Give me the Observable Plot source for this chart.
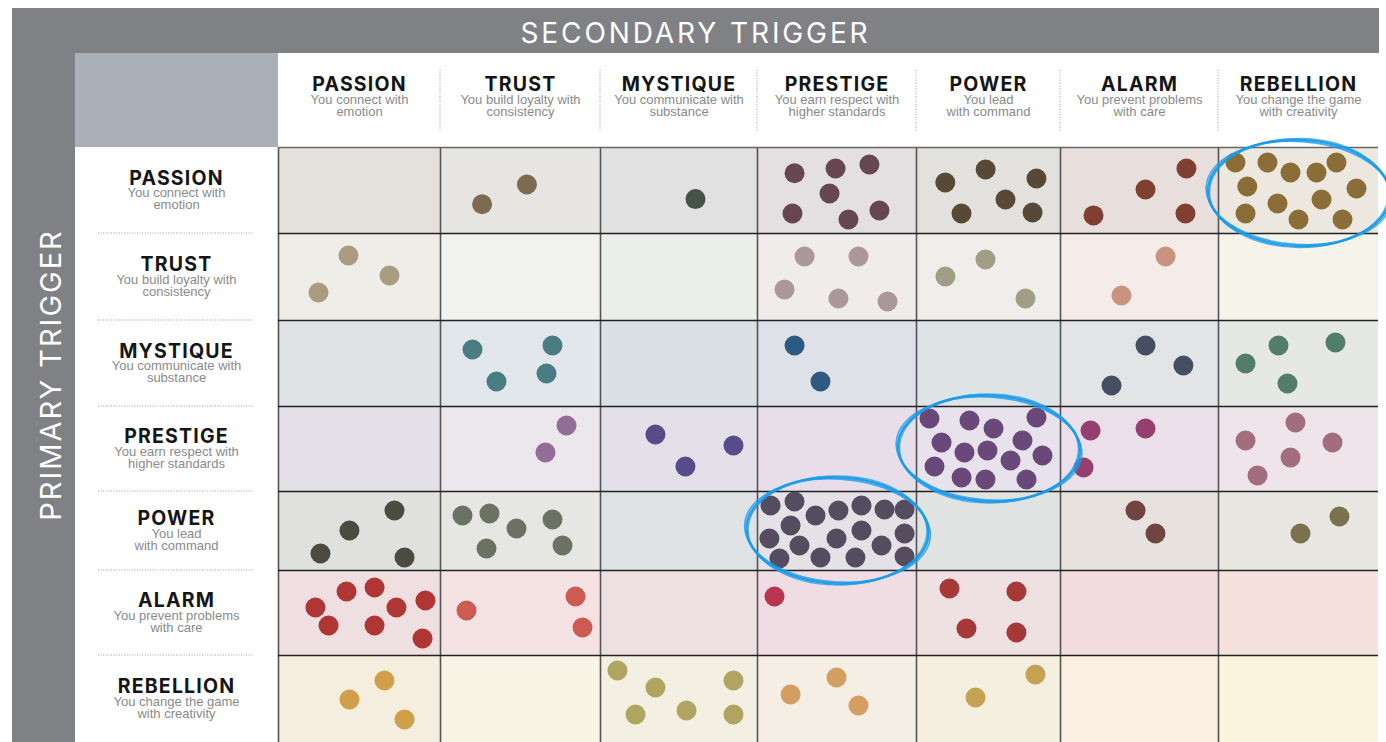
<!DOCTYPE html>
<html>
<head>
<meta charset="utf-8">
<script src="https://cdn.jsdelivr.net/npm/d3@7"></script>
<script src="https://cdn.jsdelivr.net/npm/@observablehq/plot@0.6"></script>
<style>
  body { margin: 0; background: #fff; }
  #wrap { position: relative; width: 1386px; height: 742px; overflow: hidden; background: #fff; font-family: Inter, "Noto Sans", sans-serif; }
  .band { position: absolute; background: #808185; }
  #bandTop { left: 12px; top: 8px; width: 1367px; height: 45px; }
  #bandLeft { left: 12px; top: 8px; width: 63px; height: 734px; }
  #corner { position: absolute; left: 75px; top: 53px; width: 203px; height: 94px; background: #a9b0b7; }
  #secTitle { position: absolute; left: 12px; width: 1367px; top: 19px; line-height: 1; text-align: center; color: #fff; font-size: 28px; letter-spacing: 2.9px; white-space: nowrap; }
  #priTitle { position: absolute; left: 50px; top: 375px; line-height: 1; transform: translate(-50%, -50%) rotate(-90deg); color: #fff; font-size: 29px; letter-spacing: 2px; white-space: nowrap; }
  #chart { position: absolute; left: 0; top: 0; }
  g[aria-description="col-title"] text, g[aria-description="row-title"] text { letter-spacing: 1.2px; }
</style>
</head>
<body>
<div id="wrap">
  <div class="band" id="bandTop"></div>
  <div class="band" id="bandLeft"></div>
  <div id="corner"></div>
  <div id="secTitle">SECONDARY TRIGGER</div>
  <div id="priTitle">PRIMARY TRIGGER</div>
  <div id="chart"></div>
</div>
<script>
// ---- categories & tick labels ----
const triggers = ["PASSION", "TRUST", "MYSTIQUE", "PRESTIGE", "POWER", "ALARM", "REBELLION"];
const taglines = [
  "You connect with\nemotion",
  "You build loyalty with\nconsistency",
  "You communicate with\nsubstance",
  "You earn respect with\nhigher standards",
  "You lead\nwith command",
  "You prevent problems\nwith care",
  "You change the game\nwith creativity"
];

// ---- observations: one entry per dot = [secondary index, spot within cell x, spot within cell y] ----
const dotsPassion = [
  [1, 0.26, 0.66], [1, 0.54, 0.43],
  [2, 0.605, 0.60],
  [3, 0.233, 0.30], [3, 0.491, 0.244], [3, 0.704, 0.198], [3, 0.453, 0.535], [3, 0.220, 0.767], [3, 0.572, 0.837], [3, 0.767, 0.733],
  [4, 0.20, 0.407], [4, 0.48, 0.256], [4, 0.833, 0.36], [4, 0.618, 0.605], [4, 0.3125, 0.767], [4, 0.806, 0.756],
  [5, 0.797, 0.244], [5, 0.538, 0.488], [5, 0.209, 0.79], [5, 0.791, 0.767],
  [6, 0.106, 0.174], [6, 0.306, 0.174], [6, 0.45, 0.291], [6, 0.6125, 0.291], [6, 0.7375, 0.174], [6, 0.18, 0.453],
  [6, 0.8625, 0.477], [6, 0.369, 0.651], [6, 0.644, 0.605], [6, 0.169, 0.767], [6, 0.5, 0.837], [6, 0.775, 0.837]
];
const dotsTrust = [
  [0, 0.432, 0.253], [0, 0.685, 0.483], [0, 0.247, 0.678],
  [3, 0.296, 0.264], [3, 0.635, 0.264], [3, 0.170, 0.644], [3, 0.509, 0.747], [3, 0.818, 0.782],
  [4, 0.479, 0.299], [4, 0.201, 0.494], [4, 0.757, 0.747],
  [5, 0.665, 0.264], [5, 0.386, 0.713]
];
const dotsMystique = [
  [1, 0.2, 0.337], [1, 0.7, 0.291], [1, 0.35, 0.709], [1, 0.6625, 0.616],
  [3, 0.233, 0.291], [3, 0.396, 0.709],
  [5, 0.538, 0.291], [5, 0.778, 0.523], [5, 0.323, 0.756],
  [6, 0.375, 0.291], [6, 0.731, 0.256], [6, 0.169, 0.5], [6, 0.431, 0.733]
];
const dotsPrestige = [
  [1, 0.7875, 0.224], [1, 0.656, 0.541],
  [2, 0.350, 0.329], [2, 0.847, 0.459], [2, 0.541, 0.706],
  [4, 0.09, 0.141], [4, 0.368, 0.165], [4, 0.535, 0.259], [4, 0.833, 0.129], [4, 0.174, 0.424], [4, 0.333, 0.541], [4, 0.493, 0.518],
  [4, 0.736, 0.4], [4, 0.875, 0.576], [4, 0.653, 0.635], [4, 0.125, 0.706], [4, 0.313, 0.835], [4, 0.479, 0.859], [4, 0.764, 0.859],
  [5, 0.19, 0.282], [5, 0.538, 0.259], [5, 0.146, 0.718],
  [6, 0.481, 0.188], [6, 0.169, 0.4], [6, 0.7125, 0.424], [6, 0.45, 0.6], [6, 0.244, 0.812]
];
const dotsPower = [
  [0, 0.716, 0.24], [0, 0.438, 0.494], [0, 0.259, 0.785], [0, 0.778, 0.835],
  [1, 0.1375, 0.304], [1, 0.306, 0.278], [1, 0.475, 0.468], [1, 0.7, 0.354], [1, 0.2875, 0.722], [1, 0.7625, 0.684],
  [3, 0.082, 0.177], [3, 0.233, 0.127], [3, 0.365, 0.304], [3, 0.509, 0.241], [3, 0.654, 0.177], [3, 0.799, 0.228], [3, 0.925, 0.228],
  [3, 0.208, 0.43], [3, 0.075, 0.595], [3, 0.264, 0.684], [3, 0.497, 0.595], [3, 0.654, 0.494], [3, 0.78, 0.684], [3, 0.925, 0.532],
  [3, 0.138, 0.848], [3, 0.396, 0.835], [3, 0.616, 0.835], [3, 0.925, 0.823],
  [5, 0.475, 0.24], [5, 0.601, 0.532],
  [6, 0.756, 0.316], [6, 0.5125, 0.532]
];
const dotsAlarm = [
  [0, 0.228, 0.435], [0, 0.42, 0.247], [0, 0.593, 0.2], [0, 0.728, 0.435], [0, 0.907, 0.353], [0, 0.309, 0.647], [0, 0.593, 0.647], [0, 0.889, 0.8],
  [1, 0.1625, 0.47], [1, 0.844, 0.306], [1, 0.8875, 0.67],
  [3, 0.107, 0.306],
  [4, 0.229, 0.212], [4, 0.694, 0.247], [4, 0.347, 0.682], [4, 0.694, 0.729]
];
const dotsRebellion = [
  [0, 0.654, 0.287], [0, 0.438, 0.506], [0, 0.778, 0.736],
  [2, 0.108, 0.172], [2, 0.35, 0.368], [2, 0.847, 0.287], [2, 0.223, 0.678], [2, 0.548, 0.632], [2, 0.847, 0.678],
  [3, 0.208, 0.448], [3, 0.497, 0.253], [3, 0.635, 0.575],
  [4, 0.826, 0.218], [4, 0.41, 0.483]
];
const dotsByPrimary = [dotsPassion, dotsTrust, dotsMystique, dotsPrestige, dotsPower, dotsAlarm, dotsRebellion];

// highlighted combinations [primary, secondary]
const highlighted = [["PASSION", "REBELLION"], ["PRESTIGE", "POWER"], ["POWER", "PRESTIGE"]];

// ---- styles (palette per cell, row = primary, column = secondary) ----
const cellFill = [
  ["#e4e0dc", "#e7e5e1", "#e1e1e1", "#e4dfe0", "#e2e1de", "#e8dfdd", "#ece8e0"],
  ["#efede8", "#f2f3ee", "#eceee9", "#f0ecec", "#efeeea", "#f5ecea", "#f6f4ea"],
  ["#dfe3e6", "#e1e7ea", "#dae1e4", "#dee1e8", "#dee3e6", "#e2e4e6", "#e5e8e5"],
  ["#e4e0e8", "#ece6ed", "#e4e0ea", "#e7deea", "#e7e2ec", "#ebe0e9", "#efe4e9"],
  ["#e0e0de", "#e6e6e3", "#dfe2e4", "#e4e2e6", "#e1e3e3", "#e7e2de", "#e8e7e2"],
  ["#efdfe0", "#f5e3e4", "#eedfe0", "#f0dde3", "#efe0e1", "#f3dcdc", "#f5e2de"],
  ["#f5eedf", "#faf4e6", "#f3f0e3", "#f5eee4", "#f4efdf", "#faefe0", "#fcf4de"]
];
const dotFill = [
  [null, "#7d6b4f", "#465148", "#664651", "#574936", "#7f3f33", "#8b6d37"],
  ["#a99c80", null, null, "#ad9899", "#a09e87", "#c8947f", null],
  [null, "#4a7c84", null, "#2e5a82", null, "#464e63", "#527c6b"],
  [null, "#926e97", "#564c8a", null, "#6a4879", "#943f70", "#a26e7e"],
  ["#4b4b42", "#6c7263", null, "#564c5f", null, "#6f4442", "#7b724d"],
  ["#b03636", "#cd5b51", null, "#b7354f", "#a63837", null, null],
  ["#cfa049", null, "#afa561", "#d49e63", "#c4a153", null, null]
];

// ---- layout (pixel edges of the grid) ----
const colEdges = [278, 440, 600, 757, 916, 1060, 1218, 1378];
const rowEdges = [147, 233, 320, 406, 491, 570, 655, 742];
const idx = d3.range(8);

// ---- derived tables ----
const cells = [];
triggers.forEach((p, r) => triggers.forEach((s, c) => cells.push({row: r, col: c, fill: cellFill[r][c]})));
const dots = [];
dotsByPrimary.forEach((list, r) => list.forEach(([c, fx, fy]) => dots.push({x: c + fx, y: r + fy, fill: dotFill[r][c]})));

const svgNS = "http://www.w3.org/2000/svg";
function el(name, attrs) {
  const e = document.createElementNS(svgNS, name);
  for (const k in attrs) e.setAttribute(k, attrs[k]);
  return e;
}

// dotted separators in the header areas
function separators(index, scales) {
  const g = el("g", {"aria-label": "separators", stroke: "#9a9a9a", "stroke-width": 1, "stroke-dasharray": "1,1.6", fill: "none"});
  for (let i = 1; i < 7; i++) {
    const x = scales.x(i);
    g.appendChild(el("line", {x1: x, x2: x, y1: 70, y2: 132}));
    const y = scales.y(i);
    g.appendChild(el("line", {x1: 98, x2: 253, y1: y, y2: y}));
  }
  return g;
}

// hand-drawn style circling of highlighted cells
const passes = [
  {drx: 0, dry: 0, rot: 0, w: 2.6, o: 0.95},
  {drx: 2, dry: -1.5, rot: 2, w: 1.6, o: 0.8},
  {drx: -1.5, dry: 1.5, rot: -1.5, w: 1.4, o: 0.75}
];
function circles(index, scales) {
  const g = el("g", {"aria-label": "highlight", fill: "none", stroke: "#1a9be9"});
  for (const [p, s] of highlighted) {
    const r = triggers.indexOf(p), c = triggers.indexOf(s);
    const cx = (scales.x(c) + scales.x(c + 1)) / 2 + 1;
    const cy = (scales.y(r) + scales.y(r + 1)) / 2 + (r === 0 ? 3 : 0);
    for (const q of passes) {
      g.appendChild(el("ellipse", {
        cx, cy, rx: 91 + q.drx, ry: 53 + q.dry,
        transform: `rotate(${2 + q.rot} ${cx} ${cy})`,
        "stroke-width": q.w, opacity: q.o
      }));
    }
  }
  return g;
}

const chart = Plot.plot({
  width: 1386,
  height: 742,
  marginTop: 147,
  marginLeft: 278,
  marginRight: 8,
  marginBottom: 0,
  style: {background: "transparent", overflow: "hidden"},
  x: {type: "linear", domain: idx, range: colEdges, axis: null},
  y: {type: "linear", domain: idx, range: rowEdges, axis: null},
  color: {type: "identity"},
  marks: [
    Plot.rect(cells, {x1: "col", x2: d => d.col + 1, y1: "row", y2: d => d.row + 1, fill: "fill"}),
    Plot.ruleX(d3.range(7), {x: d => d, y1: 0, y2: 7, stroke: "#555", strokeWidth: 1.6}),
    Plot.ruleY(d3.range(1, 7), {y: d => d, x1: 0, x2: 7, stroke: "#222", strokeWidth: 1.3}),
    Plot.ruleY([0], {y: d => d, x1: 0, x2: 7, stroke: "#666", strokeWidth: 1.3}),
    Plot.dot(dots, {x: "x", y: "y", r: 10, fill: "fill", stroke: null}),
    circles,
    separators,
    // column headers (secondary trigger)
    Plot.text(triggers, {x: (d, i) => i + 0.5, frameAnchor: "top", lineAnchor: "middle", dy: -63, text: d => d, textAnchor: "middle",
      fontSize: 19.5, fontWeight: 700, fill: "#151515", fontFamily: "Inter, sans-serif", ariaDescription: "col-title"}),
    Plot.text(taglines, {x: (d, i) => i + 0.5, frameAnchor: "top", lineAnchor: "middle", dy: -41, text: d => d, textAnchor: "middle",
      fontSize: 13, lineHeight: 0.93, fill: "#8a8a8a", fontFamily: "Liberation Sans, Arial, sans-serif"}),
    // row headers (primary trigger)
    Plot.text(triggers, {y: (d, i) => i + 0.5, frameAnchor: "left", lineAnchor: "middle", dx: -102, dy: -12, text: d => d, textAnchor: "middle",
      fontSize: 19.5, fontWeight: 700, fill: "#151515", fontFamily: "Inter, sans-serif", ariaDescription: "row-title"}),
    Plot.text(taglines, {y: (d, i) => i + 0.5, frameAnchor: "left", lineAnchor: "middle", dx: -102, dy: 9, text: d => d, textAnchor: "middle",
      fontSize: 13, lineHeight: 0.93, fill: "#8a8a8a", fontFamily: "Liberation Sans, Arial, sans-serif"})
  ]
});
document.getElementById("chart").appendChild(chart);
</script>
</body>
</html>
